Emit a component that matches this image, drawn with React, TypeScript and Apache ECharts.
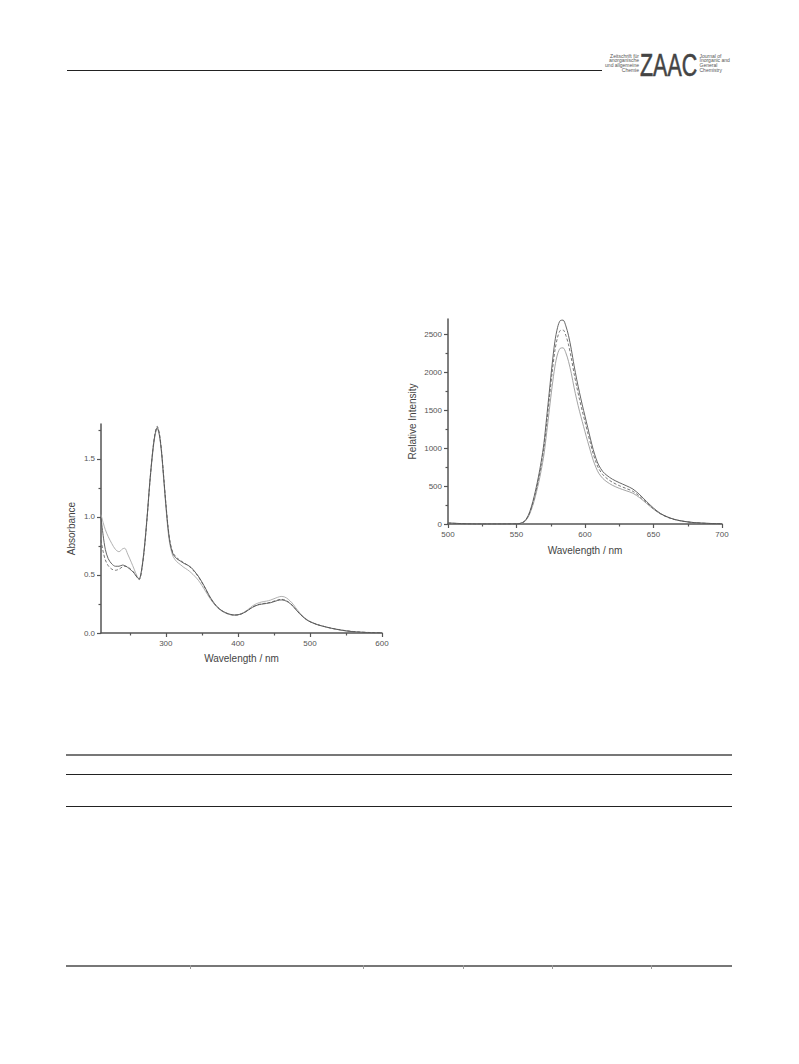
import React, { useEffect, useRef } from "react";
import * as echarts from "echarts";

// ---------- UV-vis absorption (left chart) ----------
const uvWavelengths = [210, 213, 216, 220, 225, 230, 235, 240, 243, 247, 252, 256, 260, 263, 266, 270, 274, 278, 282, 285, 288, 291, 294, 297, 300, 303, 306, 310, 315, 320, 325, 330, 335, 340, 345, 350, 355, 360, 365, 370, 375, 380, 385, 390, 395, 400, 405, 410, 415, 420, 425, 430, 435, 440, 445, 450, 455, 460, 465, 470, 475, 480, 485, 490, 495, 500, 510, 520, 530, 540, 550, 560, 570, 580, 590, 600];
const uvSolid = [0.99, 0.84, 0.72, 0.64, 0.595, 0.575, 0.575, 0.585, 0.58, 0.565, 0.54, 0.515, 0.48, 0.465, 0.53, 0.72, 1.0, 1.32, 1.58, 1.71, 1.77, 1.71, 1.56, 1.34, 1.11, 0.91, 0.77, 0.68, 0.64, 0.62, 0.6, 0.585, 0.565, 0.53, 0.49, 0.44, 0.385, 0.325, 0.275, 0.235, 0.205, 0.185, 0.17, 0.16, 0.155, 0.157, 0.165, 0.18, 0.2, 0.22, 0.235, 0.245, 0.25, 0.255, 0.26, 0.27, 0.28, 0.285, 0.28, 0.265, 0.24, 0.205, 0.17, 0.14, 0.115, 0.097, 0.072, 0.055, 0.04, 0.028, 0.018, 0.011, 0.007, 0.004, 0.002, 0.001];
const uvDashed = [0.8, 0.7, 0.63, 0.58, 0.55, 0.54, 0.55, 0.57, 0.575, 0.57, 0.545, 0.52, 0.48, 0.46, 0.52, 0.71, 0.99, 1.31, 1.58, 1.72, 1.78, 1.72, 1.57, 1.35, 1.12, 0.92, 0.78, 0.69, 0.65, 0.625, 0.605, 0.585, 0.56, 0.525, 0.485, 0.435, 0.38, 0.32, 0.27, 0.232, 0.203, 0.183, 0.168, 0.158, 0.154, 0.156, 0.165, 0.18, 0.2, 0.222, 0.238, 0.248, 0.254, 0.258, 0.264, 0.274, 0.284, 0.29, 0.285, 0.268, 0.242, 0.207, 0.172, 0.142, 0.117, 0.098, 0.073, 0.056, 0.041, 0.03, 0.02, 0.013, 0.008, 0.005, 0.003, 0.002];
const uvLight = [1.02, 0.95, 0.89, 0.83, 0.77, 0.72, 0.7, 0.725, 0.73, 0.68, 0.61, 0.55, 0.49, 0.465, 0.53, 0.73, 1.0, 1.31, 1.56, 1.7, 1.76, 1.7, 1.55, 1.32, 1.09, 0.88, 0.75, 0.66, 0.615, 0.59, 0.565, 0.545, 0.52, 0.49, 0.455, 0.41, 0.36, 0.31, 0.265, 0.228, 0.2, 0.18, 0.166, 0.157, 0.154, 0.157, 0.167, 0.185, 0.207, 0.232, 0.25, 0.262, 0.27, 0.275, 0.283, 0.295, 0.307, 0.315, 0.31, 0.29, 0.26, 0.22, 0.18, 0.147, 0.12, 0.1, 0.074, 0.056, 0.041, 0.029, 0.019, 0.012, 0.007, 0.004, 0.002, 0.001];
const uvXLabels = [300, 400, 500, 600];
const uvXMinor = [250, 350, 450, 550];
const uvYLabels = [0, 0.5, 1.0, 1.5];
const uvYMinor = [0.25, 0.75, 1.25, 1.75];

// ---------- Emission (right chart) ----------
const emWavelengths = [500, 505, 510, 520, 530, 540, 550, 553, 556, 559, 562, 564, 566, 568, 570, 572, 574, 576, 578, 580, 582, 584, 586, 588, 590, 592, 594, 596, 598, 600, 602, 604, 606, 608, 610, 613, 616, 620, 625, 630, 635, 640, 645, 650, 655, 660, 665, 670, 675, 680, 690, 700];
const emSolid = [15, 10, 5, 0, 0, 0, 2, 10, 40, 130, 300, 450, 620, 820, 1060, 1400, 1750, 2100, 2400, 2590, 2680, 2685, 2610, 2480, 2300, 2090, 1900, 1730, 1570, 1420, 1270, 1120, 980, 865, 775, 690, 640, 590, 545, 505, 460, 385, 295, 210, 140, 95, 62, 42, 28, 18, 8, 3];
const emDashed = [12, 8, 4, 0, 0, 0, 2, 9, 36, 120, 280, 420, 585, 775, 1000, 1320, 1660, 1990, 2280, 2460, 2550, 2555, 2485, 2360, 2185, 1985, 1805, 1640, 1490, 1345, 1200, 1060, 925, 815, 730, 650, 600, 550, 505, 468, 430, 362, 280, 200, 135, 90, 60, 40, 27, 17, 7, 3];
const emLight = [10, 6, 3, 0, 0, 0, 2, 8, 32, 108, 250, 380, 530, 705, 910, 1200, 1510, 1810, 2070, 2240, 2315, 2320, 2255, 2140, 1985, 1800, 1635, 1485, 1350, 1215, 1085, 960, 840, 745, 670, 600, 555, 510, 470, 438, 405, 345, 270, 195, 135, 92, 62, 42, 28, 18, 8, 3];
const emXLabels = [500, 550, 600, 650, 700];
const emXMinor = [525, 575, 625, 675];
const emYLabels = [0, 500, 1000, 1500, 2000, 2500];
const emYMinor = [250, 750, 1250, 1750, 2250];

const logoLeft = ["Zeitschrift für", "anorganische", "und allgemeine", "Chemie"];
const logoRight = ["Journal of", "Inorganic and", "General", "Chemistry"];

const FONT = "'Liberation Sans', Arial, sans-serif";
const AXIS_COLOR = "#555";
const LABEL_COLOR = "#555";

function pairs(xs: number[], ys: number[]) {
  return xs.map((x, i) => [x, ys[i]]);
}

function majorX(grid: number, min: number, max: number, labels: number[], name: string, nameGap: number) {
  return {
    gridIndex: grid,
    type: "value",
    min,
    max,
    position: "bottom",
    axisLine: { show: true, lineStyle: { color: AXIS_COLOR, width: 1.5 } },
    axisTick: { show: true, customValues: labels, length: 4, lineStyle: { color: AXIS_COLOR, width: 1.2 } },
    axisLabel: { show: true, customValues: labels, fontSize: 8, color: LABEL_COLOR, fontFamily: FONT, margin: 6 },
    splitLine: { show: false },
    name,
    nameLocation: "middle",
    nameGap,
    nameTextStyle: { fontSize: 10, color: "#444", fontFamily: FONT },
  };
}
function minorX(grid: number, min: number, max: number, ticks: number[]) {
  return {
    gridIndex: grid,
    type: "value",
    min,
    max,
    position: "bottom",
    offset: 0,
    axisLine: { show: false },
    axisTick: { show: true, customValues: ticks, length: 2.5, lineStyle: { color: AXIS_COLOR, width: 1.2 } },
    axisLabel: { show: false },
    splitLine: { show: false },
  };
}
function majorY(grid: number, min: number, max: number, labels: number[], name: string, nameGap: number, fmt: (v: number) => string) {
  return {
    gridIndex: grid,
    type: "value",
    min,
    max,
    position: "left",
    axisLine: { show: true, lineStyle: { color: AXIS_COLOR, width: 1.5 } },
    axisTick: { show: true, customValues: labels, length: 4, lineStyle: { color: AXIS_COLOR, width: 1.2 } },
    axisLabel: { show: true, customValues: labels, fontSize: 8, color: LABEL_COLOR, fontFamily: FONT, margin: 6, formatter: fmt },
    splitLine: { show: false },
    name,
    nameLocation: "middle",
    nameGap,
    nameTextStyle: { fontSize: 10, color: "#444", fontFamily: FONT },
  };
}
function minorY(grid: number, min: number, max: number, ticks: number[]) {
  return {
    gridIndex: grid,
    type: "value",
    min,
    max,
    position: "left",
    offset: 0,
    axisLine: { show: false },
    axisTick: { show: true, customValues: ticks, length: 2.5, lineStyle: { color: AXIS_COLOR, width: 1.2 } },
    axisLabel: { show: false },
    splitLine: { show: false },
  };
}

function lineSeries(name: string, data: number[][], xi: number, yi: number, color: string, type: any) {
  return {
    name,
    type: "line",
    xAxisIndex: xi,
    yAxisIndex: yi,
    data,
    showSymbol: false,
    symbol: "none",
    smooth: 0.3,
    lineStyle: { color, width: 0.9, type },
    z: 3,
  };
}

export default function App() {
  const ref = useRef<HTMLDivElement>(null);
  useEffect(() => {
    if (!ref.current) return;
    const chart = echarts.init(ref.current, undefined, { renderer: "svg" });

    const graphic: any[] = [];
    // header rule
    graphic.push({ type: "line", shape: { x1: 67, y1: 70.5, x2: 602, y2: 70.5 }, style: { stroke: "#222", lineWidth: 1 } });
    // logo
    logoLeft.forEach((t, i) => {
      graphic.push({
        type: "text",
        x: 639,
        y: 55.5 + i * 4.8,
        style: { text: t, fontSize: 5, fill: "#555", fontFamily: FONT, align: "right", verticalAlign: "middle" },
      });
    });
    graphic.push({
      type: "text",
      x: 640,
      y: 65,
      scaleX: 0.67,
      style: { text: "ZAAC", fontSize: 32, fill: "#444", fontFamily: FONT, align: "left", verticalAlign: "middle", stroke: "#444", lineWidth: 0.6 },
    });
    logoRight.forEach((t, i) => {
      graphic.push({
        type: "text",
        x: 699.5,
        y: 55.5 + i * 4.8,
        style: { text: t, fontSize: 5, fill: "#555", fontFamily: FONT, align: "left", verticalAlign: "middle" },
      });
    });
    // table rules
    graphic.push({ type: "line", shape: { x1: 66, y1: 755, x2: 732, y2: 755 }, style: { stroke: "#777", lineWidth: 2 } });
    graphic.push({ type: "line", shape: { x1: 66, y1: 774.5, x2: 732, y2: 774.5 }, style: { stroke: "#222", lineWidth: 1 } });
    graphic.push({ type: "line", shape: { x1: 66, y1: 806.5, x2: 732, y2: 806.5 }, style: { stroke: "#222", lineWidth: 1 } });
    graphic.push({ type: "line", shape: { x1: 66, y1: 966, x2: 732, y2: 966 }, style: { stroke: "#777", lineWidth: 2 } });
    [190, 363, 463, 552, 651].forEach((x) => {
      graphic.push({ type: "line", shape: { x1: x + 0.5, y1: 965, x2: x + 0.5, y2: 969 }, style: { stroke: "#999", lineWidth: 1 } });
    });

    const option: any = {
      animation: false,
      backgroundColor: "#ffffff",
      textStyle: { fontFamily: FONT },
      grid: [
        { left: 101, top: 424, width: 281, height: 209, containLabel: false },
        { left: 448, top: 319, width: 274, height: 205, containLabel: false },
      ],
      xAxis: [
        majorX(0, 210, 600, uvXLabels, "Wavelength / nm", 20),
        minorX(0, 210, 600, uvXMinor),
        majorX(1, 500, 700, emXLabels, "Wavelength / nm", 21),
        minorX(1, 500, 700, emXMinor),
      ],
      yAxis: [
        majorY(0, 0, 1.8, uvYLabels, "Absorbance", 25, (v: number) => v.toFixed(1)),
        minorY(0, 0, 1.8, uvYMinor),
        majorY(1, 0, 2700, emYLabels, "Relative Intensity", 31, (v: number) => String(v)),
        minorY(1, 0, 2700, emYMinor),
      ],
      series: [
        lineSeries("uv-light", pairs(uvWavelengths, uvLight), 0, 0, "#a8a8a8", "solid"),
        lineSeries("uv-dashed", pairs(uvWavelengths, uvDashed), 0, 0, "#666", [3, 2]),
        lineSeries("uv-solid", pairs(uvWavelengths, uvSolid), 0, 0, "#555", "solid"),
        lineSeries("em-light", pairs(emWavelengths, emLight), 2, 2, "#999", "solid"),
        lineSeries("em-dashed", pairs(emWavelengths, emDashed), 2, 2, "#666", [3, 2]),
        lineSeries("em-solid", pairs(emWavelengths, emSolid), 2, 2, "#555", "solid"),
      ],
      graphic,
    };
    chart.setOption(option);
    return () => chart.dispose();
  }, []);

  return (
    <div
      ref={ref}
      style={{ position: "absolute", left: 0, top: 0, width: 799, height: 1064, background: "#fff" }}
    />
  );
}
